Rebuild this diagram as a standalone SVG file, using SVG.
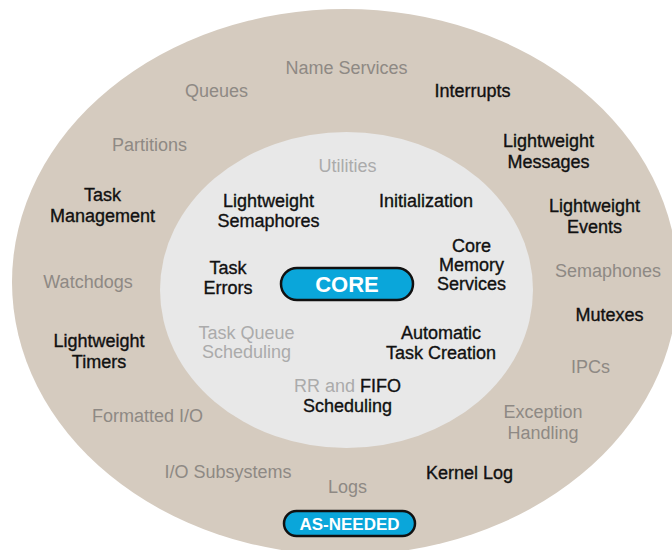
<svg xmlns="http://www.w3.org/2000/svg" width="672" height="550" viewBox="0 0 672 550">
<style>
text{font-family:"Liberation Sans",Arial,Helvetica,sans-serif;font-size:18px;text-anchor:middle}
.k{fill:#111111;stroke:#111111;stroke-width:0.35}
.g{fill:#8E8984}
.l{fill:#ABABAB}
.pill{fill:#0AA6DA;stroke:#111111;stroke-width:2.5}
.pt{fill:#ffffff;font-weight:bold}
</style>
<rect width="672" height="550" fill="#ffffff"/>
<g id="as-needed-ring">
<ellipse cx="345" cy="282" rx="333" ry="273" fill="#D5CBBF"/>
</g>
<g id="core-area">
<ellipse cx="346.5" cy="290" rx="186.5" ry="158" fill="#E8E8E8"/>
</g>
<g id="name-services"><text class="g" x="346.5" y="74">Name Services</text></g>
<g id="queues"><text class="g" x="216.5" y="97">Queues</text></g>
<g id="interrupts"><text class="k" x="472.5" y="97">Interrupts</text></g>
<g id="partitions"><text class="g" x="149.5" y="151">Partitions</text></g>
<g id="lightweight-messages"><text class="k" x="548.5" y="147">Lightweight</text><text class="k" x="548.5" y="168">Messages</text></g>
<g id="task-management"><text class="k" x="102.5" y="201">Task</text><text class="k" x="102.5" y="222">Management</text></g>
<g id="lightweight-events"><text class="k" x="594.5" y="212">Lightweight</text><text class="k" x="594.5" y="233">Events</text></g>
<g id="semaphones"><text class="g" x="608" y="277">Semaphones</text></g>
<g id="watchdogs"><text class="g" x="88" y="288">Watchdogs</text></g>
<g id="mutexes"><text class="k" x="609.5" y="321">Mutexes</text></g>
<g id="lightweight-timers"><text class="k" x="99" y="347">Lightweight</text><text class="k" x="99" y="368">Timers</text></g>
<g id="ipcs"><text class="g" x="590.5" y="373">IPCs</text></g>
<g id="formatted-io"><text class="g" x="147.5" y="422">Formatted I/O</text></g>
<g id="exception-handling"><text class="g" x="543" y="418">Exception</text><text class="g" x="543" y="439">Handling</text></g>
<g id="io-subsystems"><text class="g" x="228" y="478">I/O Subsystems</text></g>
<g id="kernel-log"><text class="k" x="469.5" y="479">Kernel Log</text></g>
<g id="logs"><text class="g" x="347.5" y="493">Logs</text></g>
<g id="utilities"><text class="l" x="347.5" y="172">Utilities</text></g>
<g id="lightweight-semaphores"><text class="k" x="268.5" y="207">Lightweight</text><text class="k" x="268.5" y="227">Semaphores</text></g>
<g id="initialization"><text class="k" x="426" y="207">Initialization</text></g>
<g id="core-memory-services"><text class="k" x="471.5" y="252">Core</text><text class="k" x="471.5" y="271">Memory</text><text class="k" x="471.5" y="290">Services</text></g>
<g id="task-errors"><text class="k" x="228" y="274">Task</text><text class="k" x="228" y="294">Errors</text></g>
<g id="task-queue-scheduling"><text class="l" x="246.5" y="339">Task Queue</text><text class="l" x="246.5" y="358">Scheduling</text></g>
<g id="automatic-task-creation"><text class="k" x="441" y="339">Automatic</text><text class="k" x="441" y="359">Task Creation</text></g>
<g id="rr-fifo-scheduling"><text x="347.5" y="392"><tspan class="l">RR and </tspan><tspan class="k">FIFO</tspan></text><text class="k" x="347.5" y="412">Scheduling</text></g>
<g id="core">
<rect class="pill" x="281" y="268" width="132" height="32" rx="16"/>
<text class="pt" x="347" y="292" style="font-size:22px">CORE</text>
</g>
<g id="as-needed">
<rect class="pill" x="284" y="511" width="131" height="25" rx="12.5"/>
<text class="pt" x="349.5" y="530" style="font-size:17px">AS-NEEDED</text>
</g>
</svg>
